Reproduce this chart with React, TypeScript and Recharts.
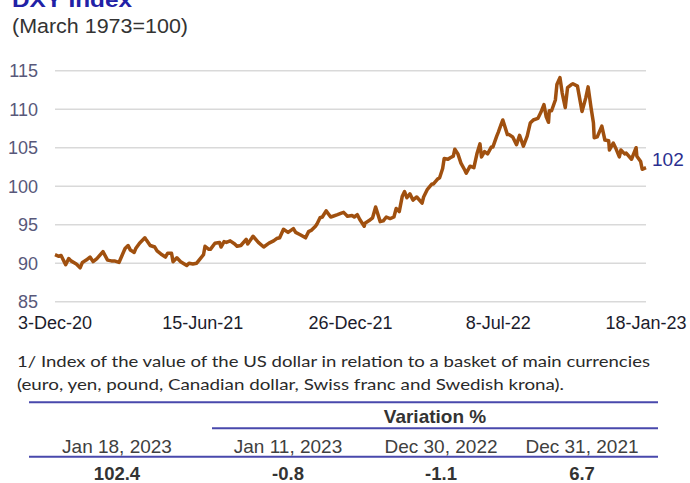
import React from "react";
import { CartesianGrid, Line, LineChart, XAxis, YAxis } from "recharts";

const obsDates = [
  "2020-12-03", "2020-12-08", "2020-12-11", "2020-12-17", "2020-12-21", "2020-12-24", "2020-12-31",
  "2021-01-05", "2021-01-08", "2021-01-13", "2021-01-18", "2021-01-22", "2021-01-27",
  "2021-02-04", "2021-02-10", "2021-02-15", "2021-02-19", "2021-02-25",
  "2021-03-01", "2021-03-05", "2021-03-09", "2021-03-12", "2021-03-17", "2021-03-19", "2021-03-24", "2021-03-31",
  "2021-04-02", "2021-04-07", "2021-04-13", "2021-04-16", "2021-04-21", "2021-04-27", "2021-04-30",
  "2021-05-05", "2021-05-07", "2021-05-12", "2021-05-17", "2021-05-25", "2021-05-28",
  "2021-06-02", "2021-06-07", "2021-06-11", "2021-06-16", "2021-06-18", "2021-06-23", "2021-06-25",
  "2021-07-01", "2021-07-07", "2021-07-09", "2021-07-13", "2021-07-16", "2021-07-21", "2021-07-27", "2021-07-30",
  "2021-08-04", "2021-08-11", "2021-08-13", "2021-08-18", "2021-08-20", "2021-08-27",
  "2021-09-03", "2021-09-10", "2021-09-16", "2021-09-20", "2021-09-24", "2021-09-29",
  "2021-10-05", "2021-10-12", "2021-10-15", "2021-10-21", "2021-10-28",
  "2021-11-01", "2021-11-05", "2021-11-10", "2021-11-12", "2021-11-16", "2021-11-19", "2021-11-24", "2021-11-30",
  "2021-12-03", "2021-12-09", "2021-12-14", "2021-12-17", "2021-12-22", "2021-12-28", "2021-12-31",
  "2022-01-04", "2022-01-07", "2022-01-13", "2022-01-14", "2022-01-19", "2022-01-24", "2022-01-28",
  "2022-02-03", "2022-02-07", "2022-02-11", "2022-02-16", "2022-02-21", "2022-02-24", "2022-02-28",
  "2022-03-04", "2022-03-07", "2022-03-10", "2022-03-14", "2022-03-18", "2022-03-23", "2022-03-30",
  "2022-04-01", "2022-04-06", "2022-04-12", "2022-04-14", "2022-04-19", "2022-04-22", "2022-04-26", "2022-04-28",
  "2022-05-03", "2022-05-06", "2022-05-10", "2022-05-12", "2022-05-16", "2022-05-20", "2022-05-25", "2022-05-27",
  "2022-06-01", "2022-06-06", "2022-06-10", "2022-06-14", "2022-06-16", "2022-06-20", "2022-06-24", "2022-06-29",
  "2022-07-01", "2022-07-06", "2022-07-08", "2022-07-12", "2022-07-14", "2022-07-20", "2022-07-22", "2022-07-27",
  "2022-08-01", "2022-08-05", "2022-08-10", "2022-08-15", "2022-08-19", "2022-08-23", "2022-08-29",
  "2022-09-02", "2022-09-06", "2022-09-09", "2022-09-12", "2022-09-13", "2022-09-16", "2022-09-21", "2022-09-23", "2022-09-27", "2022-09-30",
  "2022-10-04", "2022-10-07", "2022-10-12", "2022-10-14", "2022-10-20", "2022-10-26", "2022-10-31",
  "2022-11-03", "2022-11-07", "2022-11-10", "2022-11-11", "2022-11-15", "2022-11-21", "2022-11-25", "2022-11-30",
  "2022-12-01", "2022-12-06", "2022-12-09", "2022-12-14", "2022-12-16", "2022-12-21", "2022-12-23", "2022-12-30",
  "2023-01-05", "2023-01-06", "2023-01-11", "2023-01-13", "2023-01-18",
];

const dxyValues = [
  91.1, 90.9, 91.0, 89.8, 90.6, 90.3, 89.9,
  89.4, 90.1, 90.4, 90.8, 90.2, 90.6,
  91.5, 90.4, 90.3, 90.3, 90.1,
  91.0, 91.9, 92.3, 91.7, 91.4, 91.9, 92.6, 93.3,
  93.0, 92.3, 92.1, 91.6, 91.2, 90.8, 91.3,
  91.3, 90.2, 90.7, 90.2, 89.7, 90.0,
  89.9, 90.0, 90.5, 91.1, 92.2, 91.8, 91.8,
  92.6, 92.7, 92.1, 92.8, 92.7, 92.9, 92.5, 92.2,
  92.3, 93.1, 92.5, 93.2, 93.5, 92.7,
  92.1, 92.6, 92.9, 93.2, 93.3, 94.4,
  94.0, 94.5, 94.0, 93.7, 93.3,
  94.1, 94.3, 94.8, 95.1, 95.9, 96.0, 96.8, 96.0,
  96.1, 96.3, 96.5, 96.6, 96.1, 96.2, 96.0,
  96.3, 95.7, 94.8, 95.2, 95.5, 95.9, 97.3,
  95.4, 95.5, 96.0, 95.8, 96.0, 97.1, 96.7,
  98.7, 99.3, 98.5, 99.0, 98.2, 98.6, 97.8,
  98.6, 99.6, 100.3, 100.3, 100.9, 101.1, 102.3, 103.6,
  103.5, 103.7, 103.9, 104.8, 104.2, 103.0, 102.1, 101.7,
  102.6, 102.4, 104.2, 105.5, 103.8, 104.5, 104.2, 105.1,
  105.1, 106.5, 107.0, 108.1, 108.6, 106.7, 106.7, 106.4,
  105.4, 106.6, 105.2, 106.5, 108.2, 108.6, 108.8,
  109.6, 110.6, 109.0, 108.3, 109.8, 109.8, 111.2, 113.2, 114.1, 112.1,
  110.2, 112.8, 113.2, 113.3, 113.0, 109.7, 111.5,
  112.9, 110.1, 108.2, 106.3, 106.4, 107.8, 106.0, 105.9,
  104.7, 105.6, 105.0, 103.8, 104.7, 104.2, 104.3, 103.5,
  105.0, 103.9, 103.2, 102.2, 102.4,
];

const tickDates = ["2020-12-03", "2021-06-15", "2021-12-26", "2022-07-08", "2023-01-18"];
const tickLabels = ["3-Dec-20", "15-Jun-21", "26-Dec-21", "8-Jul-22", "18-Jan-23"];
const yTicks = [85, 90, 95, 100, 105, 110, 115];

const endLabel = "102";

const footnoteLines = [
  "1/ Index of the value of the US dollar in relation to a basket of main currencies",
  "(euro, yen, pound, Canadian dollar, Swiss franc and Swedish krona).",
];
const tableHeaders = ["Jan 18, 2023", "Jan 11, 2023", "Dec 30, 2022", "Dec 31, 2021"];
const tableValues = ["102.4", "-0.8", "-1.1", "6.7"];

const data = obsDates.map((d, i) => ({ t: Date.parse(d), dxy: dxyValues[i] }));
const xTicks = tickDates.map((d) => Date.parse(d));

const LINE_COLOR = "#A0500F";
const BLUE_RULE = "#4848AC";

export default function App() {
  const lastIdx = data.length - 1;
  const colX = [117, 288, 441, 582];

  return (
    <div style={{ position: "absolute", left: 0, top: 0, width: 690, height: 483, background: "#fff" }}>
      <LineChart
        width={690}
        height={340}
        data={data}
        margin={{ top: 70.7, right: 44, left: 0, bottom: 0 }}
        style={{ position: "absolute", left: 0, top: 0 }}
      >
        <CartesianGrid vertical={false} stroke="#d9d9d9" strokeWidth={1.5} />
        <XAxis
          dataKey="t"
          type="number"
          scale="time"
          domain={[xTicks[0], xTicks[xTicks.length - 1]]}
          ticks={xTicks}
          tickFormatter={(v: number) => tickLabels[xTicks.indexOf(v)] ?? ""}
          axisLine={false}
          tickLine={false}
          tickSize={0}
          tickMargin={15}
          height={38.3}
          interval={0}
          tick={{ fill: "#1c1c2c", fontSize: 18, fontFamily: "Liberation Sans, Arial, sans-serif" }}
        />
        <YAxis
          domain={[85, 115]}
          ticks={yTicks}
          width={55}
          axisLine={false}
          tickLine={false}
          tickSize={0}
          tickMargin={17}
          interval={0}
          tick={{ fill: "#58587a", fontSize: 18, fontFamily: "Liberation Sans, Arial, sans-serif" }}
        />
        <Line
          type="linear"
          dataKey="dxy"
          stroke={LINE_COLOR}
          strokeWidth={3.5}
          strokeLinejoin="round"
          dot={false}
          isAnimationActive={false}
          label={(p: any) =>
            p.index === lastIdx ? (
              <text
                key="end"
                x={p.x + 6}
                y={p.y - 8}
                dy="0.35em"
                fill="#2B2F8F"
                fontSize={19}
                fontFamily="Liberation Sans, Arial, sans-serif"
              >
                {endLabel}
              </text>
            ) : (
              <g key={p.index} />
            )
          }
        />
      </LineChart>

      <svg width={690} height={483} style={{ position: "absolute", left: 0, top: 0, pointerEvents: "none" }}>
        <g fontFamily="Liberation Sans, Arial, sans-serif">
          <text x={12} y={7} fontSize={21} fontWeight="bold" fill="#2121A6" textLength={120} lengthAdjust="spacingAndGlyphs">
            DXY Index
          </text>
          <text x={12} y={33} fontSize={20.5} fill="#333" textLength={176} lengthAdjust="spacingAndGlyphs">
            (March 1973=100)
          </text>
        </g>

        <g fontFamily="Lato, 'Noto Sans', sans-serif" fontSize={16} fill="#2a2a2a">
          <text x={17} y={367} textLength={633} lengthAdjust="spacingAndGlyphs">
            {footnoteLines[0]}
          </text>
          <text x={17} y={390} textLength={547} lengthAdjust="spacingAndGlyphs">
            {footnoteLines[1]}
          </text>
        </g>

        <line x1={29} x2={658} y1={402.3} y2={402.3} stroke={BLUE_RULE} strokeWidth={2} />
        <line x1={212} x2={658} y1={428.3} y2={428.3} stroke={BLUE_RULE} strokeWidth={2} />
        <line x1={29} x2={658} y1={456.7} y2={456.7} stroke={BLUE_RULE} strokeWidth={2} />

        <g fontFamily="Liberation Sans, Arial, sans-serif" textAnchor="middle">
          <text x={435} y={423} fontSize={19} fontWeight="bold" fill="#333">
            Variation %
          </text>
          {tableHeaders.map((h, i) => (
            <text key={h} x={colX[i]} y={452.5} fontSize={19} fill="#404040">
              {h}
            </text>
          ))}
          {tableValues.map((v, i) => (
            <text key={i} x={colX[i]} y={479.5} fontSize={18.5} fontWeight="bold" fill="#333">
              {v}
            </text>
          ))}
        </g>
      </svg>
    </div>
  );
}
